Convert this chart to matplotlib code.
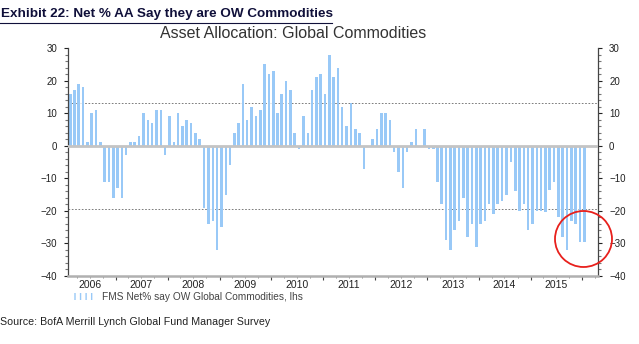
import matplotlib
matplotlib.use("Agg")
import matplotlib.pyplot as plt
import matplotlib.dates as mdates
from matplotlib.patches import Ellipse, Patch
from matplotlib.lines import Line2D
import pandas as pd

# Net % of asset allocators overweight commodities, monthly Feb 2006 - Jan 2016
net_ow = [
    16, 17, 19, 18, 1, 10, 11, 1, -11, -11, -16,              # 2006 (Feb-Dec)
    -13, -16, -3, 1, 1, 3, 10, 8, 7, 11, 11, -3,              # 2007
    9, 1, 10, 6, 8, 7, 4, 2, -19, -24, -23, -32,              # 2008
    -25, -15, -6, 4, 7, 19, 8, 12, 9, 11, 25, 22,             # 2009
    23, 10, 16, 20, 17, 4, -1, 9, 4, 17, 21, 22,              # 2010
    16, 28, 21, 24, 12, 6, 13, 5, 4, -7, 0, 2,                # 2011
    5, 10, 10, 8, -2, -8, -13, -2, 1, 5, 0, 5,                # 2012
    -1, -1, -11, -18, -29, -32, -26, -23, -16, -28, -24, -31, # 2013
    -24, -23, -18, -21, -18, -17, -15, -5, -14, -20, -18, -26,  # 2014
    -24, -20, -20, -20.5, -13.5, -11, -22, -28, -32, -23, -24, -29.5,  # 2015
    -29.5,                                                    # 2016 (Jan)
]
dates = pd.date_range("2006-02-01", periods=len(net_ow), freq="MS") + pd.Timedelta(days=14)
years = list(range(2006, 2016))
upper_band = 13
lower_band = -19.4

bar_color = "#99c9f7"
fig = plt.figure(figsize=(6.39, 3.44), dpi=100)
ax = fig.add_axes([68.3 / 639, 1 - 276 / 344, (598 - 68.3) / 639, (276 - 48) / 344])

ax.bar(dates, net_ow, width=18, color=bar_color, edgecolor="none", zorder=2)
ax.axhline(0, color="#c4c4c4", lw=2, zorder=3)
ax.axhline(upper_band, color="#666666", lw=0.6, ls=(0, (2, 2)), zorder=1)
ax.axhline(lower_band, color="#666666", lw=0.6, ls=(0, (2, 2)), zorder=1)

ax.set_xlim(pd.Timestamp("2006-02-01"), pd.Timestamp("2016-04-20"))
ax.set_ylim(-40, 30)
ax.set_yticks(range(-40, 31, 10))
ax.set_yticks(range(-40, 31, 2), minor=True)

ax.xaxis.set_major_locator(mdates.YearLocator())
ax.xaxis.set_minor_locator(mdates.MonthLocator(bymonth=[4, 7, 10]))
ax.xaxis.set_major_formatter(plt.NullFormatter())
ax.tick_params(axis="x", which="major", length=3, width=0.8, color="#444444")
ax.tick_params(axis="x", which="minor", length=1.5, width=0.6, color="#777777")

ax.tick_params(axis="y", which="both", left=True, right=True, labelleft=True,
               labelright=True, labelsize=7, colors="#222222", width=0.8)
ax.tick_params(axis="y", which="major", length=3, pad=5)
ax.tick_params(axis="y", which="minor", length=2, color="#777777")

for lab in ax.get_yticklabels():
    lab.set_family("Liberation Sans")

ax.spines["top"].set_visible(False)
ax.spines["left"].set_color("#444444")
ax.spines["right"].set_color("#444444")
ax.spines["left"].set_linewidth(0.9)
ax.spines["right"].set_linewidth(0.9)
ax.spines["bottom"].set_color("#b0b0b0")
ax.spines["bottom"].set_linewidth(1.8)

trans = ax.get_xaxis_transform()
for y in years:
    ax.text(pd.Timestamp(f"{y}-07-01"), -0.018, str(y), transform=trans,
            ha="center", va="top", fontsize=7.5, family="Liberation Sans", color="#222222")

# headings
fig.text(0.002, 1 - 14 / 344, "Exhibit 22: Net % AA Say they are OW Commodities",
         fontsize=9.7, fontweight="bold", family="Liberation Sans",
         color="#10103a", va="center", ha="left")
fig.add_artist(Line2D([0, 332 / 639], [1 - 22.5 / 344, 1 - 22.5 / 344], color="#10103a", lw=0.8))
fig.text(293 / 639, 1 - 33 / 344, "Asset Allocation: Global Commodities", fontsize=11.5,
         family="Liberation Sans", color="#333333", va="center", ha="center")

# legend
handle = Patch(facecolor="white", edgecolor=bar_color, hatch="|||", lw=0)
fig.legend([handle], ["FMS Net% say OW Global Commodities, lhs"], loc="center left",
           bbox_to_anchor=(73 / 639, 1 - 297 / 344), frameon=False,
           borderaxespad=0, borderpad=0,
           prop={"family": "Liberation Sans", "size": 7.3}, labelcolor="#444444",
           handlelength=2.0, handleheight=0.7, handletextpad=0.9)

fig.text(0.0, 1 - 322 / 344, "Source: BofA Merrill Lynch Global Fund Manager Survey",
         fontsize=7.7, family="Liberation Sans", color="#222222",
         va="center", ha="left")

# red highlight circle
fig.add_artist(Ellipse((583.5 / 639, 1 - 239 / 344), 57 / 639, 56 / 344,
                       fill=False, edgecolor="#e8201c", lw=1.3))

fig.savefig("out.png", dpi=100)
